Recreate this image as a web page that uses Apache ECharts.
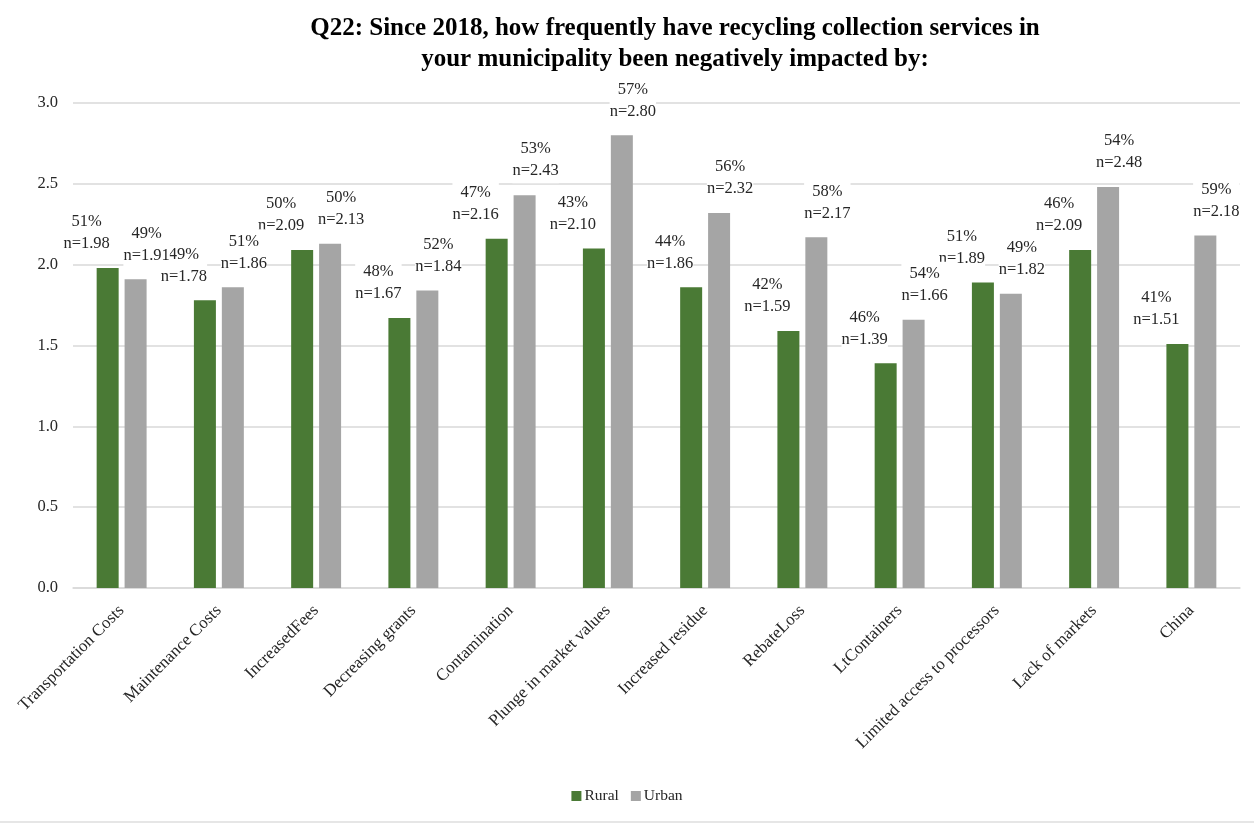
<!DOCTYPE html>
<html>
<head>
<meta charset="utf-8">
<script src="https://cdn.jsdelivr.net/npm/echarts@6/dist/echarts.min.js"></script>
<style>
  html, body { margin: 0; padding: 0; background: #fff; }
  #chart { width: 1254px; height: 823px; }
</style>
</head>
<body>
<div id="chart"></div>
<script>
// Survey categories (x axis)
const categories = [
  'Transportation Costs', 'Maintenance Costs', 'IncreasedFees', 'Decreasing grants',
  'Contamination', 'Plunge in market values', 'Increased residue', 'RebateLoss',
  'LtContainers', 'Limited access to processors', 'Lack of markets', 'China'
];

// Mean frequency score per group
const ruralValues = [1.98, 1.78, 2.09, 1.67, 2.16, 2.10, 1.86, 1.59, 1.39, 1.89, 2.09, 1.51];
const urbanValues = [1.91, 1.86, 2.13, 1.84, 2.43, 2.80, 2.32, 2.17, 1.66, 1.82, 2.48, 2.18];

// Share of respondents per group
const ruralPct = [51, 49, 50, 48, 47, 43, 44, 42, 46, 51, 46, 41];
const urbanPct = [49, 51, 50, 52, 53, 57, 56, 58, 54, 49, 54, 59];

const FONT = '"Liberation Serif", "Times New Roman", serif';

function labelFor(pcts, offsetX) {
  return {
    show: true,
    position: 'top',
    distance: 12,
    offset: [offsetX, 0],
    fontFamily: FONT,
    fontSize: 16.5,
    color: '#262626',
    lineHeight: 22,
    backgroundColor: '#fff',
    padding: [1, 0, 1, 0],
    formatter: p => pcts[p.dataIndex] + '%\nn=' + p.value.toFixed(2)
  };
}

const chart = echarts.init(document.getElementById('chart'));
chart.setOption({
  backgroundColor: '#fff',
  animation: false,
  title: {
    text: 'Q22: Since 2018, how frequently have recycling collection services in\nyour municipality been negatively impacted by:',
    left: 670,
    top: 8,
    textAlign: 'center',
    textStyle: {
      fontFamily: FONT,
      fontWeight: 'bold',
      fontSize: 25,
      lineHeight: 31,
      color: '#000'
    }
  },
  legend: {
    bottom: 14,
    left: 'center',
    itemWidth: 10,
    itemHeight: 10,
    itemGap: 12,
    icon: 'rect',
    textStyle: { fontFamily: FONT, fontSize: 15.5, color: '#262626', padding: [0, 0, 0, -2] },
    data: ['Rural', 'Urban']
  },
  grid: { left: 73, right: 14, top: 103, bottom: 235 },
  xAxis: {
    type: 'category',
    data: categories,
    axisTick: { show: false },
    axisLine: { lineStyle: { color: '#d9d9d9', width: 1.5 } },
    axisLabel: {
      interval: 0,
      rotate: 45,
      margin: 20,
      fontFamily: FONT,
      fontSize: 17,
      color: '#262626'
    }
  },
  yAxis: {
    type: 'value',
    min: 0,
    max: 3,
    interval: 0.5,
    axisLine: { show: false },
    axisTick: { show: false },
    splitLine: { lineStyle: { color: '#d9d9d9', width: 1.5 } },
    axisLabel: {
      margin: 15,
      fontFamily: FONT,
      fontSize: 16.5,
      color: '#262626',
      formatter: v => v.toFixed(1)
    }
  },
  series: [
    {
      name: 'Rural',
      type: 'bar',
      data: ruralValues,
      barWidth: 22,
      barGap: '27%',
      itemStyle: { color: '#4a7a35' },
      label: labelFor(ruralPct, -21)
    },
    {
      name: 'Urban',
      type: 'bar',
      data: urbanValues,
      barWidth: 22,
      itemStyle: { color: '#a5a5a5' },
      label: labelFor(urbanPct, 11)
    }
  ],
  graphic: [
    {
      type: 'rect',
      left: 0,
      bottom: 0,
      shape: { width: 1254, height: 2 },
      style: { fill: '#e6e6e6' }
    }
  ]
});
</script>
</body>
</html>
